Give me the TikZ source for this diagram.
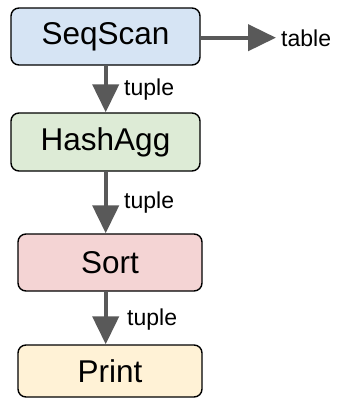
\documentclass[tikz,border=0pt]{standalone}
\usepackage{fontspec}
\setmainfont{Liberation Sans}
\usetikzlibrary{arrows.meta}
\definecolor{cblue}{HTML}{D6E4F4}
\definecolor{cgreen}{HTML}{DDEBD6}
\definecolor{cred}{HTML}{F4D4D4}
\definecolor{cyellow}{HTML}{FFF2D6}
\definecolor{cline}{HTML}{595959}
\begin{document}
\begin{tikzpicture}[x=1pt,y=-1pt,
  opbox/.style={draw=black,line width=1.4pt,rounded corners=8pt,font=\fontsize{31.5}{32}\selectfont,inner sep=0pt,anchor=center},
  flow/.style={draw=cline,line width=4.3pt,-{Triangle[length=28pt,width=26pt]}},
  lbl/.style={font=\fontsize{23}{24}\selectfont,inner sep=0pt,anchor=west}]
\useasboundingbox (0,0) rectangle (342,399);
\node[opbox,fill=cblue,minimum width=189pt,minimum height=57pt] (scan) at (105.5,36.5) {SeqScan};
\node[opbox,fill=cgreen,minimum width=189pt,minimum height=58pt] (agg) at (105.5,142) {HashAgg};
\node[opbox,fill=cred,minimum width=184pt,minimum height=57pt] (sort) at (110,262.5) {Sort};
\node[opbox,fill=cyellow,minimum width=184pt,minimum height=52pt] (print) at (110,371) {Print};
\coordinate (tbl) at (276,37.7);
\node[lbl] (tlabel) at (281,38) {table};
\draw[flow] (scan.east |- tbl) -- (tbl);
\draw[flow] (scan.south -| 105.7,0) -- (agg.north -| 105.7,0);
\draw[flow] (agg.south -| 105.7,0) -- (sort.north -| 105.7,0);
\draw[flow] (sort.south -| 105.7,0) -- (print.north -| 105.7,0);
\node[lbl] (t1) at (124,90) {tuple};
\node[lbl] (t2) at (124,203) {tuple};
\node[lbl] (t3) at (127,320) {tuple};
\end{tikzpicture}
\end{document}
